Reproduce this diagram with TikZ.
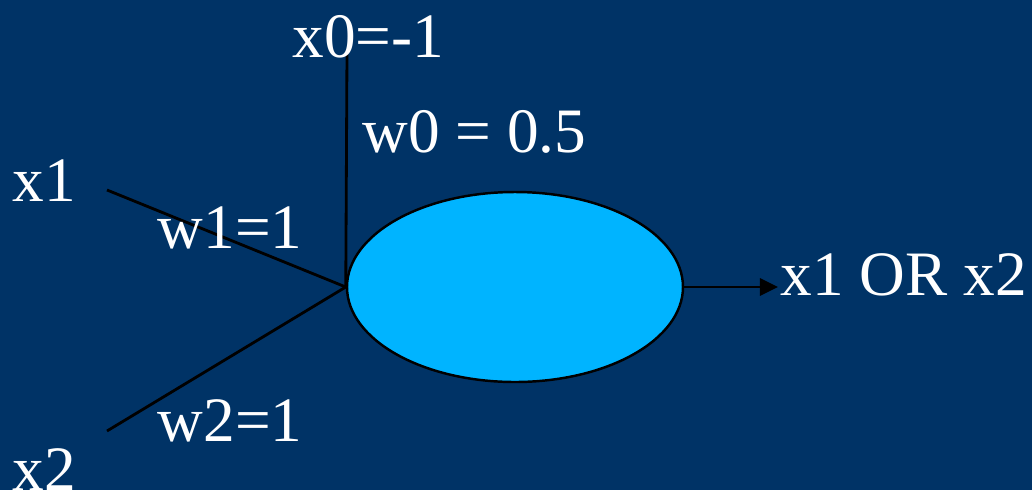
\documentclass[tikz,border=0pt]{standalone}
\usepackage{fontspec}
\setmainfont{Liberation Serif}
\usepackage{xcolor}
\usetikzlibrary{arrows.meta, positioning, shapes.geometric}
\definecolor{slidebg}{HTML}{003366}
\definecolor{neuronfill}{HTML}{00B4FF}

\begin{document}
\begin{tikzpicture}[
    lbl/.style={anchor=base west, inner sep=0pt, text=white, font=\fontsize{18}{20}\selectfont},
    wire/.style={black, line width=0.8pt},
    arr/.style={wire, -{Triangle[length=1.8mm, width=1.7mm]}},
    neuron/.style={ellipse, draw=black, line width=0.7pt, fill=neuronfill, minimum width=3.36cm, minimum height=1.9cm, inner sep=0pt},
]
\fill[slidebg] (0,0) rectangle (10.32,-4.90);
\useasboundingbox (0,0) rectangle (10.32,-4.90);

\node[neuron] (unit) at (5.15,-2.87) {};

\coordinate (in0) at (3.47,-0.52);
\coordinate (in1) at (1.07,-1.90);
\coordinate (in2) at (1.07,-4.31);
\coordinate (out) at (7.78,-2.87);

\draw[wire] (in0) -- (unit.west);
\draw[wire] (in1) -- (unit.west);
\draw[wire] (in2) -- (unit.west);
\draw[arr] (unit.east) -- (out);

\node[lbl] (x0) at (2.92,-0.57) {x0=-1};
\node[lbl] (w0) at (3.62,-1.52) {w0 = 0.5};
\node[lbl] (x1) at (0.12,-2.01) {x1};
\node[lbl] (w1) at (1.57,-2.48) {w1=1};
\node[lbl] (x2) at (0.12,-4.90) {x2};
\node[lbl] (w2) at (1.57,-4.41) {w2=1};
\node[lbl] (res) at (7.80,-2.95) {x1 OR x2};
\end{tikzpicture}
\end{document}
